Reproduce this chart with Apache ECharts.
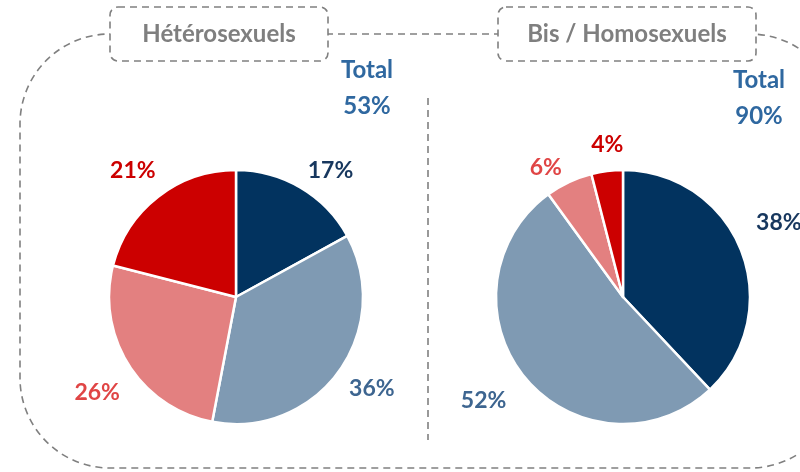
<!DOCTYPE html>
<html><head><meta charset="utf-8">
<script src="https://cdn.jsdelivr.net/npm/echarts@6/dist/echarts.min.js"></script>
<style>html,body{margin:0;padding:0;background:#fff}#c{width:800px;height:472px}</style>
</head><body><div id="c"></div>
<script>
const groups = ['Hétérosexuels', 'Bis / Homosexuels'];
const categories = ['Catégorie 1', 'Catégorie 2', 'Catégorie 3', 'Catégorie 4'];
const heteroValues = [17, 36, 26, 21];
const bihomoValues = [38, 52, 6, 4];
const totalLabels = ['53%', '90%'];

const sliceColors = ['#02335f', '#7f9ab3', '#e38080', '#cc0000'];
const labelColors = ['#17375e', '#3d6590', '#e04545', '#cc0000'];
const heteroLabelOffsets = [[-5, -5], [-6, 9], [8, 20], [11, -15]];
const bihomoLabelOffsets = [[-3, -23], [-3, 14], [4, -2], [23, -13]];
const FONT = 'Lato, "Open Sans", sans-serif';

function buildData(vals, offsets) {
  return categories.map((c, i) => ({
    name: c, value: vals[i],
    itemStyle: { color: sliceColors[i] },
    label: { color: labelColors[i], offset: offsets[i] }
  }));
}
function pieSeries(vals, center, offsets) {
  return {
    type: 'pie', center: center, radius: 127, startAngle: 90, clockwise: true,
    avoidLabelOverlap: false, silent: true, animation: false,
    itemStyle: { borderColor: '#fff', borderWidth: 2.5 },
    label: { show: true, position: 'outside', formatter: p => p.value + '%',
      fontFamily: FONT, fontWeight: 'bold', fontSize: 23 },
    labelLine: { show: false, length: 14, length2: 0 },
    data: buildData(vals, offsets)
  };
}

const chart = echarts.init(document.getElementById('c'), null, { renderer: 'canvas' });
const dash = { stroke: '#808080', lineWidth: 1.6, lineDash: [7, 5], fill: null };
function txt(x, y, s, color, size) {
  return { type: 'text', x: x, y: y, z: 3, style: { text: s, fill: color,
    font: 'bold ' + size + 'px ' + FONT, textAlign: 'center', textVerticalAlign: 'middle' } };
}
chart.setOption({
  animation: false,
  series: [pieSeries(heteroValues, [236, 297], heteroLabelOffsets),
           pieSeries(bihomoValues, [623, 297], bihomoLabelOffsets)],
  graphic: [
    { type: 'rect', shape: { x: 20, y: 34, width: 820, height: 434, r: 90 }, style: dash, z: 1 },
    { type: 'line', shape: { x1: 428, y1: 98, x2: 428, y2: 440 }, style: dash, z: 1 },
    { type: 'rect', shape: { x: 110, y: 7, width: 218, height: 54, r: 8 },
      style: Object.assign({}, dash, { fill: '#fff' }), z: 2 },
    { type: 'rect', shape: { x: 498, y: 7, width: 258, height: 54, r: 8 },
      style: Object.assign({}, dash, { fill: '#fff' }), z: 2 },
    txt(219, 34, groups[0], '#7f7f7f', 24),
    txt(627, 34, groups[1], '#7f7f7f', 24),
    txt(367, 70, 'Total', '#2f68a0', 24),
    txt(367, 106, totalLabels[0], '#2f68a0', 24),
    txt(759, 80, 'Total', '#2f68a0', 24),
    txt(759, 116, totalLabels[1], '#2f68a0', 24)
  ]
});
</script></body></html>
